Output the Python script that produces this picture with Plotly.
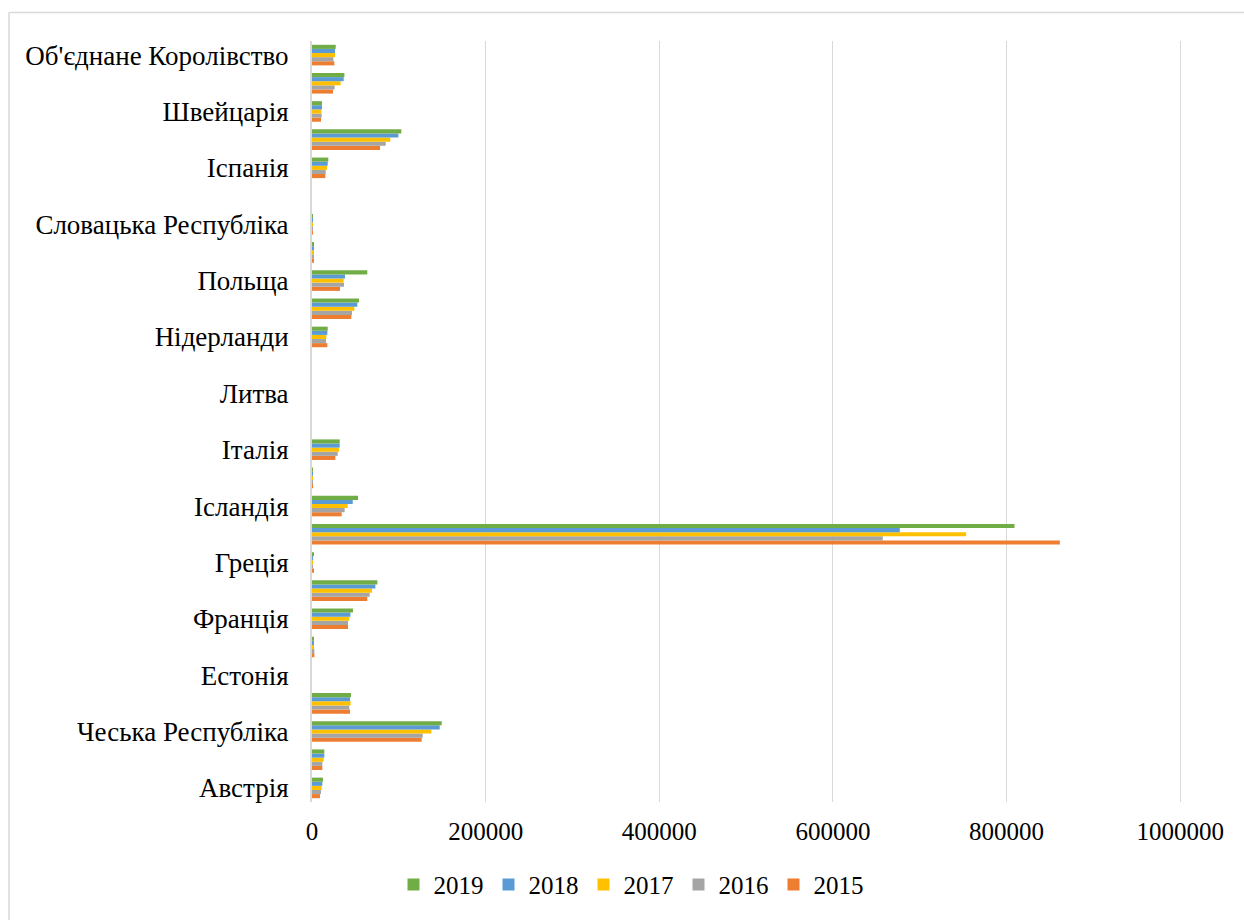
import plotly.graph_objects as go

# Countries, bottom to top on the category axis
countries = [
    "Австрія", "Бельгія", "Чеська Республіка", "Данія", "Естонія", "Фінляндія",
    "Франція", "Німеччина", "Греція", "Угорщина", "Ісландія", "Ірландія",
    "Італія", "Латвія", "Литва", "Люксембург", "Нідерланди", "Норвегія",
    "Польща", "Португалія", "Словацька Республіка", "Словенія", "Іспанія",
    "Швеція", "Швейцарія", "Туреччина", "Об'єднане Королівство",
]

v2019 = [12700, 14200, 149400, 44900, 0, 1900, 47200, 75300, 1300, 809100, 53000, 800,
         31900, 0, 0, 0, 18100, 54100, 63700, 2300, 800, 0, 18800, 102900, 11500, 37300, 27300]
v2018 = [11900, 14200, 147100, 43800, 0, 2300, 44200, 73000, 1000, 677000, 46900, 700,
         31900, 0, 0, 0, 17700, 52200, 38000, 2300, 700, 0, 18100, 99500, 11500, 36500, 26500]
v2017 = [11100, 13400, 137500, 44500, 0, 2300, 43000, 69100, 900, 753400, 41100, 800,
         31100, 0, 0, 0, 16500, 48800, 36500, 1900, 800, 0, 17300, 90200, 10800, 33000, 26500]
v2016 = [10400, 11900, 127500, 43000, 0, 2700, 41500, 66400, 800, 657400, 37600, 600,
         29600, 0, 0, 0, 16100, 46100, 36900, 1500, 500, 0, 15800, 84900, 11100, 26100, 24600]
v2015 = [9200, 11900, 126300, 43800, 0, 2700, 41500, 63700, 1300, 861300, 34200, 900,
         26900, 0, 0, 0, 17700, 45300, 32300, 1500, 900, 0, 15400, 78300, 10400, 24200, 25700]

# Only every other country name is printed on the axis
shown_labels = countries[::2]

x_ticks = [0, 200000, 400000, 600000, 800000, 1000000]
x_tick_text = ["0", "200000", "400000", "600000", "800000", "1000000"]

series = [
    ("2015", v2015, "#ED7D31"),
    ("2016", v2016, "#A5A5A5"),
    ("2017", v2017, "#FFC000"),
    ("2018", v2018, "#5B9BD5"),
    ("2019", v2019, "#70AD47"),
]

fig = go.Figure()
for name, vals, color in series:
    fig.add_trace(go.Bar(
        y=countries, x=vals, name=name, orientation="h",
        marker=dict(color=color, line=dict(width=0)),
    ))

W, H = 1244, 920
L, R, T, B = 312, 62, 41, 115
plot_w = W - L - R
plot_h = H - T - B


def px_to_paper_x(px):
    return (px - L) / plot_w


def px_to_paper_y(py):
    return (H - B - py) / plot_h


font_family = "Liberation Serif, Times New Roman, serif"

fig.update_layout(
    width=W, height=H,
    margin=dict(l=L, r=R, t=T, b=B, pad=0),
    paper_bgcolor="white", plot_bgcolor="white",
    barmode="group", bargap=0.27, bargroupgap=0,
    font=dict(family=font_family, size=25, color="black"),
    showlegend=True,
    legend=dict(
        orientation="h", traceorder="reversed",
        x=px_to_paper_x(631), xanchor="center",
        y=px_to_paper_y(888), yanchor="middle",
        font=dict(family=font_family, size=25, color="black"),
        bgcolor="rgba(0,0,0,0)",
    ),
    xaxis=dict(
        range=[0, 1002000],
        tickmode="array", tickvals=x_ticks, ticktext=x_tick_text,
        showgrid=True, gridcolor="#D9D9D9", gridwidth=1,
        zeroline=False, showline=False, ticks="",
        ticklabelstandoff=12,
        tickfont=dict(family=font_family, size=25, color="black"),
    ),
    yaxis=dict(
        type="category", categoryorder="array", categoryarray=countries,
        range=[-0.5, len(countries) - 0.5],
        tickmode="array", tickvals=shown_labels, ticktext=shown_labels,
        showgrid=False, zeroline=False,
        showline=True, linecolor="#D9D9D9", linewidth=2,
        ticks="", ticklabelstandoff=16,
        tickfont=dict(family=font_family, size=27, color="black"),
    ),
    shapes=[
        # chart area border (top and left edges visible)
        dict(type="line", xref="paper", yref="paper",
             x0=px_to_paper_x(9), x1=px_to_paper_x(W + 5),
             y0=px_to_paper_y(12.5), y1=px_to_paper_y(12.5),
             line=dict(color="#D9D9D9", width=1.5)),
        dict(type="line", xref="paper", yref="paper",
             x0=px_to_paper_x(9), x1=px_to_paper_x(9),
             y0=px_to_paper_y(12.5), y1=px_to_paper_y(H + 5),
             line=dict(color="#D9D9D9", width=1.5)),
    ],
)

fig.write_html("out.html")
